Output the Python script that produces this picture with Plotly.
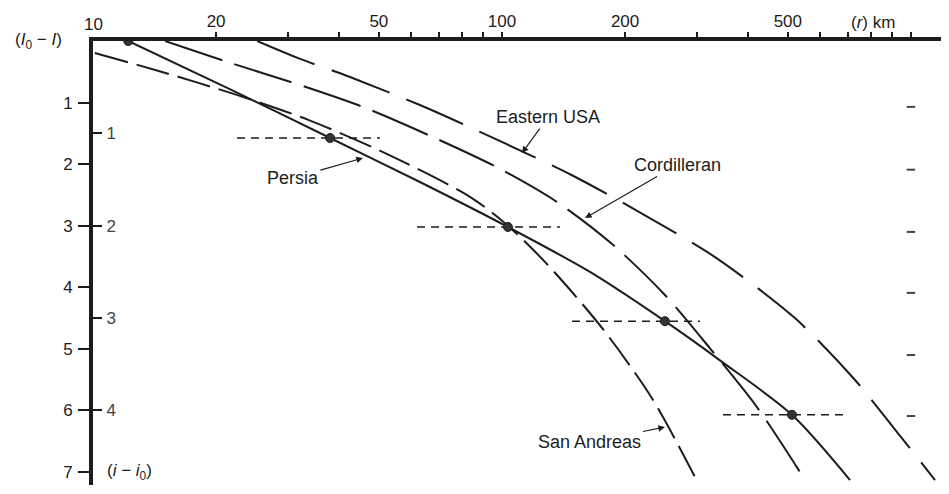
import plotly.graph_objects as go

# Distancia (km) y caída de intensidad (I0 - I)
persia_r = [12.2, 21.6, 38.0, 63.0, 103.4, 164.1, 250.3, 345.1, 511.7, 709.5]
persia_di = [0.0, 0.78, 1.575, 2.29, 3.02, 3.75, 4.55, 5.21, 6.07, 7.13]

sanandreas_r = [10.1, 14.2, 18.1, 23.3, 33.6, 51.8, 83.5, 103.4, 129.6, 176.6, 232.6, 296.4]
sanandreas_di = [0.195, 0.47, 0.68, 0.91, 1.28, 1.82, 2.53, 3.0, 3.64, 4.68, 5.80, 7.08]

cordilleran_r = [15.0, 21.3, 32.1, 45.7, 67.8, 97.8, 136.3, 186.8, 250.3, 322.5, 420.2, 535.3]
cordilleran_di = [0.0, 0.34, 0.715, 1.07, 1.56, 2.06, 2.615, 3.31, 4.125, 4.99, 5.945, 7.0]

eastern_r = [25.2, 32.1, 42.5, 63.0, 97.8, 148.3, 223.7, 331.8, 520.4, 729.8, 924.5, 1145]
eastern_di = [0.0, 0.29, 0.585, 1.04, 1.61, 2.18, 2.83, 3.51, 4.50, 5.505, 6.35, 7.13]

# Puntos medios de Persia y su rango de distancias
puntos_r = [12.2, 38.0, 103.4, 250.3, 511.7]
puntos_di = [0.0, 1.575, 3.02, 4.55, 6.07]
rango_lo = [22.5, 62.0, 148.3, 347.0]
rango_hi = [50.3, 138.6, 304.9, 701.6]
rango_di = [1.575, 3.02, 4.55, 6.07]

# Marcas sueltas del borde derecho (escaneo)
marcas_r = [1000, 1000, 1000, 1000, 1000, 1000]
marcas_di = [1.07, 2.09, 3.10, 4.09, 5.10, 6.09]

# Ejes
x_ticks = [10, 20, 50, 100, 200, 500]
x_minor = [30, 40, 60, 70, 80, 90, 300, 400, 600, 700, 800, 900, 1000]
y_ticks = [1, 2, 3, 4, 5, 6, 7]
i_ticks = [1, 2, 3, 4]  # (i - i0) = (I0 - I) / 1.5

INK = '#1c1c1c'
FONT = 'Liberation Sans, Arial, sans-serif'

fig = go.Figure()

curvas = [
    (persia_r, persia_di, 'solid'),
    (sanandreas_r, sanandreas_di, '34px,9px'),
    (cordilleran_r, cordilleran_di, '60px,13px'),
    (eastern_r, eastern_di, '62px,18px'),
]
for r, di, dash in curvas:
    fig.add_trace(go.Scatter(
        x=r, y=di, mode='lines',
        line=dict(color=INK, width=2, dash=dash, shape='spline', smoothing=0.8),
        hoverinfo='skip'
    ))

for lo, hi, di in zip(rango_lo, rango_hi, rango_di):
    fig.add_trace(go.Scatter(
        x=[lo, hi], y=[di, di], mode='lines',
        line=dict(color=INK, width=1.6, dash='8px,6px'),
        hoverinfo='skip'
    ))

fig.add_trace(go.Scatter(
    x=puntos_r, y=puntos_di, mode='markers',
    marker=dict(color='#333333', size=9, line=dict(color=INK, width=1)),
    hoverinfo='skip'
))

fig.add_trace(go.Scatter(
    x=marcas_r, y=marcas_di, mode='markers', yaxis='y2',
    marker=dict(symbol='line-ew', size=6, line=dict(color='#444444', width=2)),
    hoverinfo='skip'
))

y_max = 7.21

# la página tiene 8 px de margen en el body: se compensa aquí
fig.update_layout(
    width=941, height=486, autosize=False,
    margin=dict(l=85, r=0, t=33, b=9),
    paper_bgcolor='white', plot_bgcolor='white',
    showlegend=False,
    font=dict(family=FONT, color=INK, size=17),
    xaxis=dict(
        type='log', range=[1, 3.093], side='top',
        tickvals=x_ticks, ticktext=[str(v) for v in x_ticks],
        ticks='outside', ticklen=5, tickwidth=2, tickcolor=INK,
        ticklabelstandoff=-2,
        minor=dict(tickmode='array', tickvals=x_minor, ticks='outside',
                   ticklen=5, tickwidth=2, tickcolor=INK, showgrid=False),
        showline=True, linewidth=4, linecolor=INK,
        showgrid=False, zeroline=False, automargin=False,
        tickfont=dict(size=17),
    ),
    yaxis=dict(
        range=[y_max, 0],
        tickvals=y_ticks, ticktext=[str(v) for v in y_ticks],
        ticks='outside', ticklen=11, tickwidth=2, tickcolor=INK,
        ticklabelstandoff=2,
        showline=True, linewidth=4, linecolor=INK,
        showgrid=False, zeroline=False, automargin=False,
        tickfont=dict(size=17),
    ),
    yaxis2=dict(
        overlaying='y', anchor='x', side='left',
        range=[y_max, 0],
        tickvals=[1.5 * v for v in i_ticks], ticktext=[str(v) for v in i_ticks],
        ticks='inside', ticklen=9, tickwidth=2, tickcolor=INK,
        ticklabelposition='inside', ticklabelstandoff=5,
        showline=False, showgrid=False, zeroline=False, automargin=False,
        tickfont=dict(size=17),
    ),
)

# Etiquetas de ejes
fig.add_annotation(x=1, y=1.0, xref='x', yref='paper', xanchor='center', yanchor='bottom',
                   yshift=5, text='10', showarrow=False, font=dict(size=17))
fig.add_annotation(x=-0.058, y=1.0, xref='paper', yref='paper', xanchor='center', yanchor='middle',
                   xshift=-5, text='(<i>I</i><sub>0</sub> − <i>I</i>)', showarrow=False, font=dict(size=17))
fig.add_annotation(x=0.0, y=7.0, xref='paper', yref='y', xanchor='left', yanchor='middle',
                   xshift=12, text='(<i>i</i> − <i>i</i><sub>0</sub>)', showarrow=False, font=dict(size=17))
fig.add_annotation(x=2.908, y=1.0, xref='x', yref='paper', xanchor='center', yanchor='bottom',
                   yshift=7, text='(<i>r</i>) km', showarrow=False, font=dict(size=17))

# Rótulos de las curvas con flecha (x en log10 por ser eje logarítmico)
rotulos = [
    ('Eastern USA', 2.049, 1.82, 26, -36),
    ('Cordilleran', 2.203, 2.875, 92, -53),
    ('Persia', 1.660, 1.90, -70, 20),
    ('San Andreas', 2.3985, 6.27, -75, 15),
]
for texto, lx, ly, ax, ay in rotulos:
    fig.add_annotation(
        x=lx, y=ly, xref='x', yref='y', text=texto,
        showarrow=True, ax=ax, ay=ay,
        arrowhead=2, arrowsize=1.1, arrowwidth=1.2, arrowcolor=INK,
        font=dict(size=18, color=INK)
    )

fig.write_html("out.html")
